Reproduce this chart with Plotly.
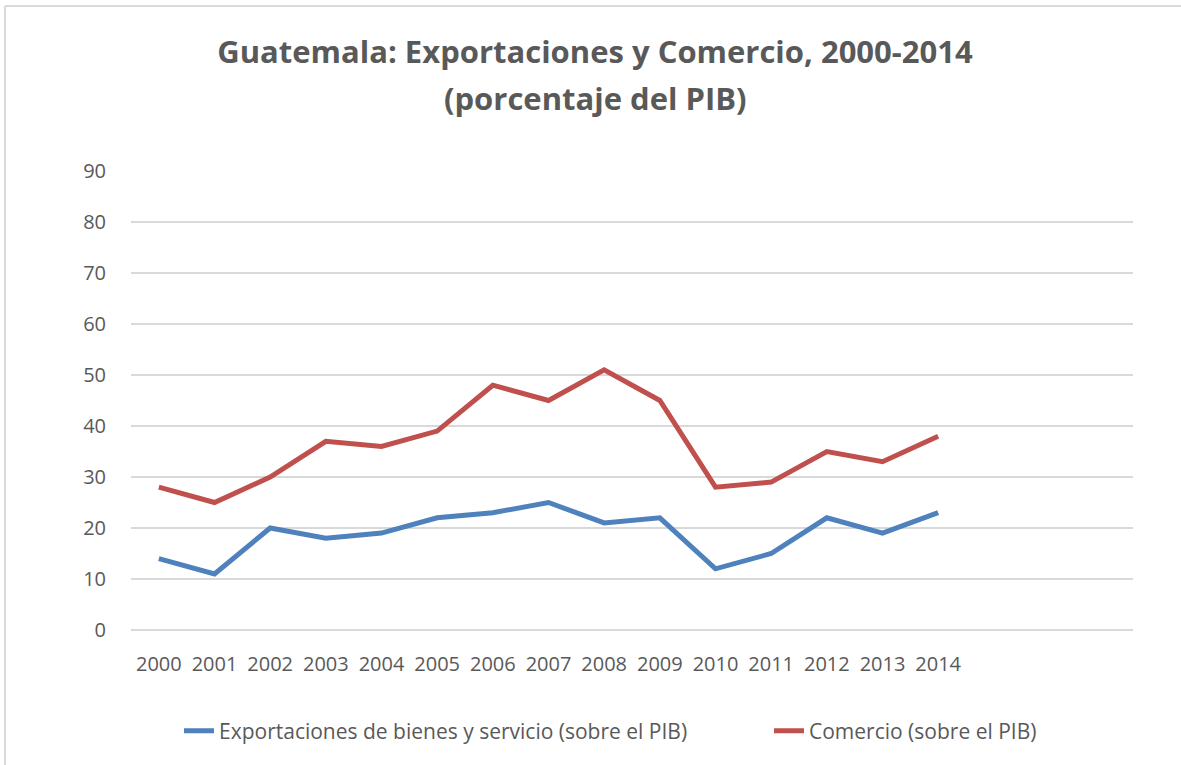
import plotly.graph_objects as go

years = list(range(2000, 2015))
year_labels = [str(y) for y in years]
exportaciones = [14, 11, 20, 18, 19, 22, 23, 25, 21, 22, 12, 15, 22, 19, 23]
comercio = [28, 25, 30, 37, 36, 39, 48, 45, 51, 45, 28, 29, 35, 33, 38]
y_ticks = [0, 10, 20, 30, 40, 50, 60, 70, 80, 90]

FONT = "Open Sans"
GRAY = "#595959"

fig = go.Figure()
fig.add_trace(go.Scatter(x=years, y=exportaciones, mode="lines",
                         name="Exportaciones de bienes y servicio (sobre el PIB)",
                         line=dict(color="#4F81BD", width=5), legend="legend"))
fig.add_trace(go.Scatter(x=years, y=comercio, mode="lines",
                         name="Comercio (sobre el PIB)",
                         line=dict(color="#C0504D", width=5), legend="legend2"))

W, H = 1181, 765
L, R, T, B = 131, 48, 171, 135
pw, ph = W - L - R, H - T - B

def px_x(x):
    return (x - L) / pw

def px_y(y):
    return (H - B - y) / ph

leg_font = dict(family=FONT, size=21, color=GRAY)

fig.update_layout(
    width=W, height=H,
    margin=dict(l=L, r=R, t=T, b=B),
    paper_bgcolor="white", plot_bgcolor="white",
    font=dict(family=FONT, color=GRAY),
    title=dict(text="<b>Guatemala: Exportaciones y Comercio, 2000-2014</b>",
               x=595 / W, xref="container", xanchor="center",
               y=1 - 52 / H, yref="container", yanchor="middle",
               font=dict(family=FONT, size=31, color=GRAY)),
    showlegend=True,
    legend=dict(orientation="h", x=px_x(179), xanchor="left",
                y=px_y(731), yanchor="middle", font=leg_font),
    legend2=dict(orientation="h", x=px_x(769), xanchor="left",
                 y=px_y(731), yanchor="middle", font=leg_font),
    xaxis=dict(range=[1999.5, 2017.5], tickvals=years, ticktext=year_labels,
               showgrid=False, zeroline=False, showline=False,
               ticks="outside", ticklen=16, tickcolor="rgba(0,0,0,0)",
               tickfont=dict(family=FONT, size=20, color=GRAY)),
    yaxis=dict(range=[0, 90], tickvals=y_ticks, showgrid=True,
               gridcolor="#d9d9d9", gridwidth=1.5,
               zeroline=True, zerolinecolor="#d9d9d9", zerolinewidth=1.5,
               showline=False, ticks="outside", ticklen=20,
               tickcolor="rgba(0,0,0,0)",
               tickfont=dict(family=FONT, size=20, color=GRAY)),
    annotations=[dict(text="<b>(porcentaje del PIB)</b>", xref="paper", yref="paper",
                      x=px_x(595), y=px_y(98), xanchor="center", yanchor="middle",
                      showarrow=False, font=dict(family=FONT, size=31, color=GRAY))],
    shapes=[
        dict(type="line", xref="paper", yref="paper", x0=px_x(5), x1=px_x(1190),
             y0=px_y(6), y1=px_y(6), line=dict(color="#d9d9d9", width=2)),
        dict(type="line", xref="paper", yref="paper", x0=px_x(5), x1=px_x(5),
             y0=px_y(6), y1=px_y(780), line=dict(color="#d9d9d9", width=2)),
    ],
)

fig.write_html("out.html", config={"displayModeBar": False},
               post_script="document.body.style.margin='0px';")
